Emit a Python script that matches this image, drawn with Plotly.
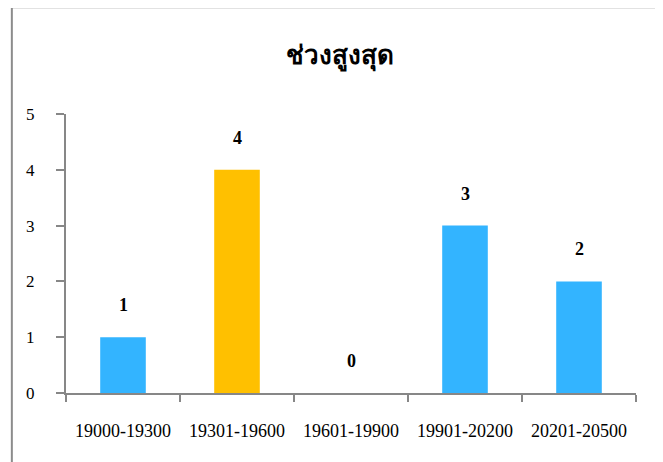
import plotly.graph_objects as go

ranges = ['19000-19300', '19301-19600', '19601-19900', '19901-20200', '20201-20500']
counts = [1, 4, 0, 3, 2]
bar_colors = ['#33B4FF', '#FFC000', '#33B4FF', '#33B4FF', '#33B4FF']

fig = go.Figure(go.Bar(x=ranges, y=counts, marker_color=bar_colors, marker_line_width=0))

# ป้ายตัวเลขเหนือแท่ง
for r, c in zip(ranges, counts):
    fig.add_annotation(x=r, y=c, text='<b>%d</b>' % c, showarrow=False, yshift=32,
                       font=dict(family='Liberation Serif', size=18, color='black'))

axis_col = '#878787'
fig.update_layout(
    width=663, height=462,
    margin=dict(l=58, r=35, t=106, b=77),
    paper_bgcolor='white', plot_bgcolor='white',
    title=dict(text='<b>ช่วงสูงสุด</b>', x=0.501, xanchor='center', y=0.898, yanchor='middle',
               font=dict(family='Liberation Serif', size=26, color='black')),
    bargap=0.6,
    showlegend=False,
    font=dict(family='Liberation Serif', size=17, color='black'),
)
fig.update_xaxes(showline=True, linecolor=axis_col, linewidth=2, ticks='outside',
                 tickson='boundaries', ticklen=7, tickcolor=axis_col, tickwidth=2,
                 showgrid=False, tickfont=dict(size=18), ticklabelstandoff=20)
fig.update_yaxes(range=[0, 5], dtick=1, showline=True, linecolor=axis_col, linewidth=2,
                 ticks='outside', ticklen=8, tickcolor=axis_col, tickwidth=2,
                 showgrid=False, zeroline=False, tickfont=dict(size=17), ticklabelstandoff=18)

# กรอบของแผนภูมิ (บางส่วน)
fig.add_shape(type='path', xref='paper', yref='paper',
              path='M -0.095 -0.3 L -0.095 1.383 L 1.2 1.383',
              line=dict(color='#8c8c8c', width=2))

fig.write_html('out.html')
